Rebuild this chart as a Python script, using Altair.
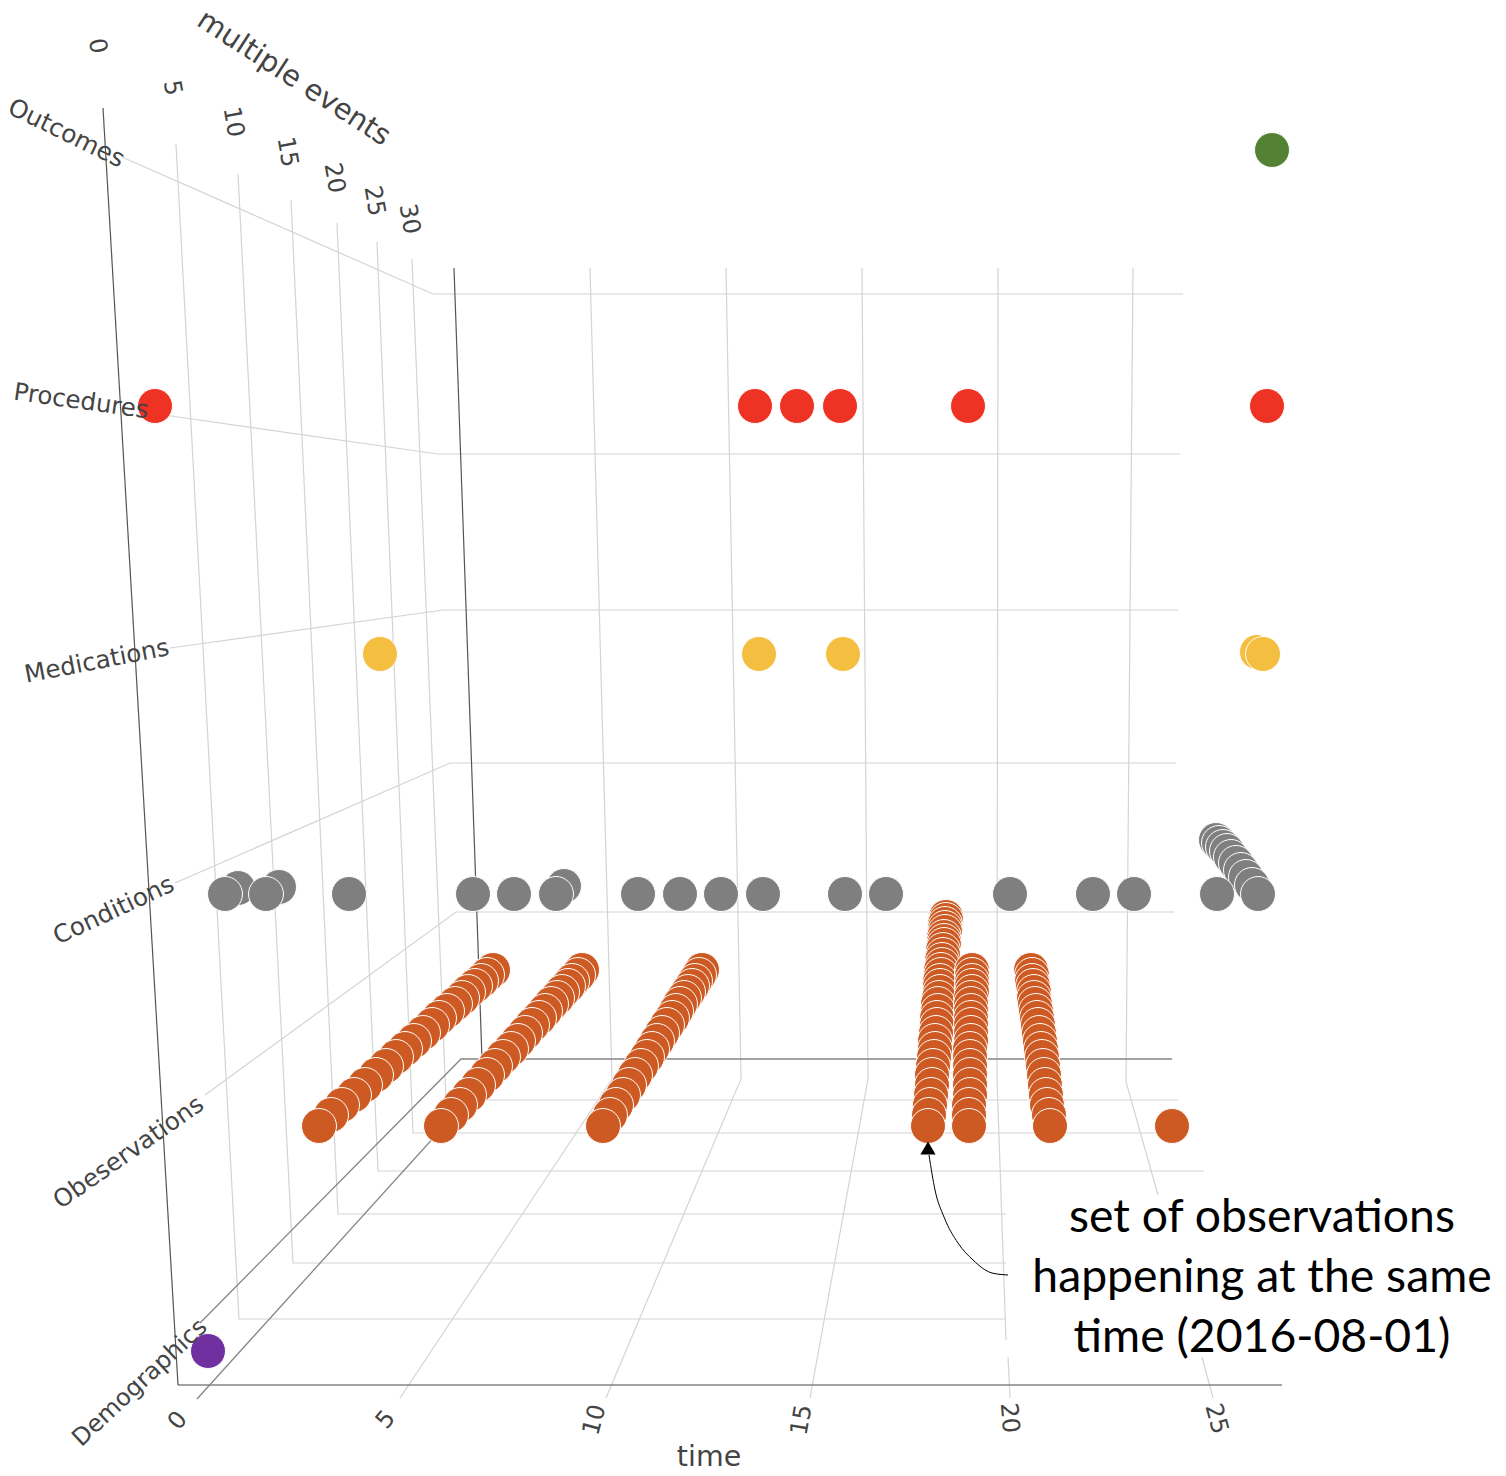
import altair as alt
import pandas as pd

# Horizontal / vertical positions of the marks
DEPTH_Y = [1126,1115,1105,1095,1085,1075,1066,1057,1049,1041,1033,1025,1018,1011,1004,998,992,986,981,975,970,
           965,960,955,950,945,941,937,932,928,924,920,917]
OBS_A = [319,331,342,354,365,376,386,396,405,414,423,432,439,447,455,462,468,475,481,487,493]
OBS_B = [441,451,460,469,478,487,495,503,511,518,525,532,539,545,551,557,562,568,572,578,582]
OBS_C = [603,610,616,623,629,635,641,647,652,657,662,667,672,676,680,684,688,692,695,699,702]
OBS_TALL = [928,929,930,931,932,932,933,934,935,935,936,937,937,938,938,939,940,940,940,941,941,
            942,942,943,943,944,944,944,945,945,945,946,946]
OBS_D = [969,969,969,970,970,970,970,970,970,971,971,971,971,971,971,971,972,972,972,972,972]
OBS_E = [1050,1049,1047,1046,1045,1044,1043,1042,1041,1040,1039,1038,1037,1036,1035,1034,1034,1033,1032,1032,1031]
OBS_SINGLE = [(1172, 1126)]

COND_STACK_X = [1258,1252,1246,1241,1236,1231,1227,1223,1219,1216]
COND_STACK_Y = [894,885,877,870,863,857,851,847,843,840]
COND_BACK = [(238,888),(279,887),(564,886)]
COND_X = [225,266,349,473,514,556,638,680,721,763,845,886,1010,1093,1134,1217]
COND_Y = 894

MED = [(380,654),(759,654),(843,654),(1257,652),(1263,654)]
PROC_X = [155,755,797,840,968,1267]
PROC_Y = 406
OUTCOMES = [(1272,150)]
DEMOGRAPHICS = [(208,1351)]

CATEGORIES = ["Demographics","Obeservations","Conditions","Medications","Procedures","Outcomes"]
COLORS = ["#7030A0","#CC5A22","#7F7F7F","#F4BE41","#EE3224","#548235"]

GRID = [
    [(122,157),(433,294),(1183,294)],
    [(150,413),(438,454),(1180,454)],
    [(170,648),(443,610),(1178,610)],
    [(175,883),(450,763),(1176,763)],
    [(205,1095),(456,912),(1174,912)],
    [(176,144),(239,1319),(1006,1319)],
    [(238,174),(293,1263),(1006,1263)],
    [(291,200),(338,1214),(1006,1214)],
    [(337,223),(378,1171),(1204,1171)],
    [(377,242),(413,1133),(1188,1133)],
    [(412,259),(446,1100),(1178,1100)],
    [(590,268),(612,1079),(400,1398)],
    [(726,268),(741,1079),(606,1398)],
    [(862,268),(868,1079),(810,1398)],
    [(998,268),(997,1079),(1006,1340)],
    [(1008,1357),(1010,1398)],
    [(1133,268),(1126,1082),(1158,1195)],
    [(1202,1357),(1213,1398)],
]
AXIS_DARK = [
    [(103,108),(178,1385)],
    [(454,268),(482,1059)],
]
AXIS_MID = [
    [(178,1385),(1282,1385)],
    [(200,1323),(461,1059),(1172,1059)],
    [(197,1399),(570,987)],
]
CURVE = [(1008,1275),(992,1273),(973,1260),(958,1243),(944,1217),(935,1190),(929,1155)]
ARROW = [(928,1148)]

LABELS = [
    ("Outcomes",66,134,26,24.8),("Procedures",81,402,8,24.5),("Medications",97,662,349,24.5),
    ("Conditions",114,911,335,24.6),("Obeservations",129,1153,325,24.5),("Demographics",140,1383,317,24),
    ("multiple events",294,78,33,28.8),("time",709,1457,0,28.5),
    ("0",97,46,80,24),("5",172,88,80,24),("10",233,122,80,24),("15",287,152,80,24),
    ("20",334,178,80,24),("25",374,201,80,24),("30",409,219,80,24),
    ("0",178,1421,310,24),("5",386,1420,310,24),("10",595,1420,285,24),("15",802,1420,280,24),
    ("20",1009,1418,85,24),("25",1216,1419,75,24),
]
NOTE = [("set of observations",1262,1218),("happening at the same",1262,1278),("time (2016-08-01)",1262,1338)]

X = alt.X("x:Q", axis=None, scale=alt.Scale(domain=[8,1498], nice=False, zero=False))
Y = alt.Y("y:Q", axis=None, scale=alt.Scale(domain=[1472,8], nice=False, zero=False))


def lines(groups):
    rows = []
    for g, pts in enumerate(groups):
        for i, (a, b) in enumerate(pts):
            rows.append({"group": g, "seq": i, "x": a, "y": b})
    return pd.DataFrame(rows)


def line_layer(groups, color, width=1.0):
    return alt.Chart(lines(groups)).mark_line(color=color, strokeWidth=width, clip=False).encode(
        x=X, y=Y, detail="group:N", order="seq:Q")


rows = []
def add(cat, pts):
    for a, b in pts:
        rows.append({"x": a, "y": b, "category": cat})

add("Demographics", DEMOGRAPHICS)
for xs in (OBS_TALL, OBS_D, OBS_E, OBS_C, OBS_B, OBS_A):
    add("Obeservations", list(zip(xs, DEPTH_Y))[::-1])
add("Obeservations", OBS_SINGLE)
add("Conditions", COND_BACK)
add("Conditions", list(zip(COND_STACK_X, COND_STACK_Y))[::-1])
add("Conditions", [(a, COND_Y) for a in COND_X])
add("Medications", MED)
add("Procedures", [(a, PROC_Y) for a in PROC_X])
add("Outcomes", OUTCOMES)
points = pd.DataFrame(rows)

labels = pd.DataFrame(LABELS, columns=["text","x","y","angle","size"])
note = pd.DataFrame(NOTE, columns=["text","x","y"])

grid = line_layer(GRID, "#d4d4d4", 1.2)
dark = line_layer(AXIS_DARK, "#555555", 1.2)
mid = line_layer(AXIS_MID, "#858585", 1.3)
curve = alt.Chart(lines([CURVE])).mark_line(color="black", strokeWidth=1, interpolate="monotone").encode(
    x=X, y=Y, order="seq:Q")
arrow = alt.Chart(pd.DataFrame(ARROW, columns=["x","y"])).mark_point(
    shape="triangle-up", filled=True, color="black", size=230, opacity=1).encode(x=X, y=Y)
text = alt.Chart(labels).mark_text(font="DejaVu Sans", color="#444444", align="center", baseline="middle").encode(
    x=X, y=Y, text="text:N", angle=alt.Angle("angle:Q", scale=None), size=alt.Size("size:Q", scale=None))
dots = alt.Chart(points).mark_circle(size=1225, opacity=1, stroke="white", strokeWidth=1).encode(
    x=X, y=Y,
    color=alt.Color("category:N", scale=alt.Scale(domain=CATEGORIES, range=COLORS), legend=None))
note_text = alt.Chart(note).mark_text(font="Lato", fontSize=46.3, color="black", align="center", baseline="middle").encode(
    x=X, y=Y, text="text:N")

chart = alt.layer(grid, mid, dark, dots, text, curve, arrow, note_text).properties(
    width=1490, height=1464, padding=0, autosize=alt.AutoSizeParams(type="none")
).configure_view(stroke=None)

chart.save("out.html", embed_options={"renderer": "svg", "actions": False})
